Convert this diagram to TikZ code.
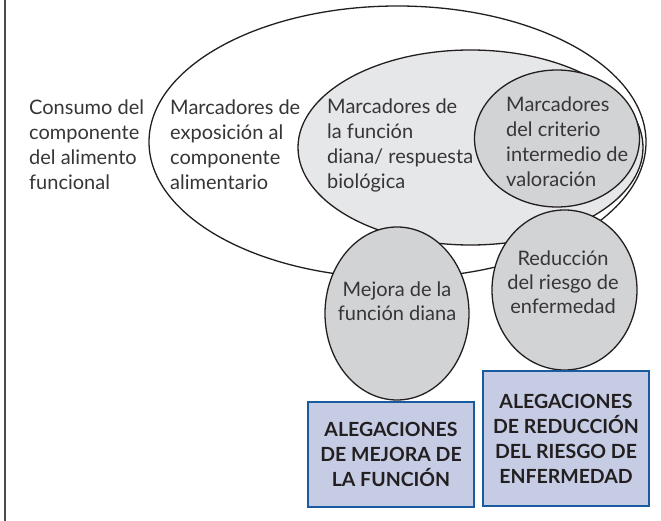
\documentclass[tikz,border=0pt]{standalone}
\usepackage{fontspec}
\setmainfont{Lato}
\usetikzlibrary{shapes.geometric,positioning}

\definecolor{trazo}{RGB}{35,31,32}
\definecolor{letra}{RGB}{55,53,55}
\definecolor{grisclaro}{RGB}{230,231,232}
\definecolor{grismedio}{RGB}{209,211,212}
\definecolor{cajafondo}{RGB}{197,204,228}
\definecolor{cajaborde}{RGB}{25,90,160}

\begin{document}
\begin{tikzpicture}[
    x=1pt, y=-1pt,
    zona/.style={ellipse, draw=trazo, line width=1.3pt, inner sep=0pt},
    texto/.style={align=left, anchor=west, inner sep=0pt, text=letra, font=\fontsize{20}{25}\selectfont},
    centro/.style={align=center, inner sep=0pt, text=letra, font=\fontsize{20}{24}\selectfont},
    caja/.style={rectangle, draw=cajaborde, fill=cajafondo, line width=2.2pt, minimum width=166pt, inner sep=0pt},
    cajatexto/.style={align=center, inner sep=0pt, text=trazo, font=\bfseries\fontsize{19.5}{25}\selectfont}
]
    \useasboundingbox (0,0) rectangle (661,521);

    % Margin rule
    \draw[gray!60!black, line width=2pt] (5,0) -- (5,521);

    % Nested ellipses
    \node[zona, fill=white, minimum width=497pt, minimum height=272pt] (consumo) at (397.5,142) {};
    \node[zona, fill=grisclaro, minimum width=345pt, minimum height=195pt] (funcion) at (470.5,147.5) {};
    \node[zona, fill=grismedio, minimum width=165pt, minimum height=137pt] (criterio) at (557,138.5) {};

    % Lower ellipses
    \node[zona, fill=grismedio, minimum width=144pt, minimum height=173pt] (mejora) at (397,313.5) {};
    \node[zona, fill=grismedio, minimum width=145pt, minimum height=160pt] (riesgo) at (564.5,290) {};

    % Texts
    \node[texto] (tconsumo) at (29,145) {Consumo del\\componente\\del alimento\\funcional};
    \node[texto] (texpo) at (170,145) {Marcadores de\\exposición al\\componente\\alimentario};
    \node[texto] (tfuncion) at (327,145) {Marcadores de\\la función\\diana/ respuesta\\biológica};
    \node[texto] (tcriterio) at (506,142) {Marcadores\\del criterio\\intermedio de\\valoración};
    \node[centro] (tmejora) at (397,301) {Mejora de la\\función diana};
    \node[centro] (triesgo) at (563,282) {Reducción\\del riesgo de\\enfermedad};

    % Claim boxes
    \node[caja, minimum height=105pt] (amejora) at (391,454.5) {};
    \node[caja, minimum height=135pt] (ariesgo) at (566,438.5) {};
    \node[cajatexto] at (amejora) {ALEGACIONES\\DE MEJORA DE\\LA FUNCIÓN};
    \node[cajatexto] at (ariesgo) {ALEGACIONES\\DE REDUCCIÓN\\DEL RIESGO DE\\ENFERMEDAD};
\end{tikzpicture}
\end{document}
